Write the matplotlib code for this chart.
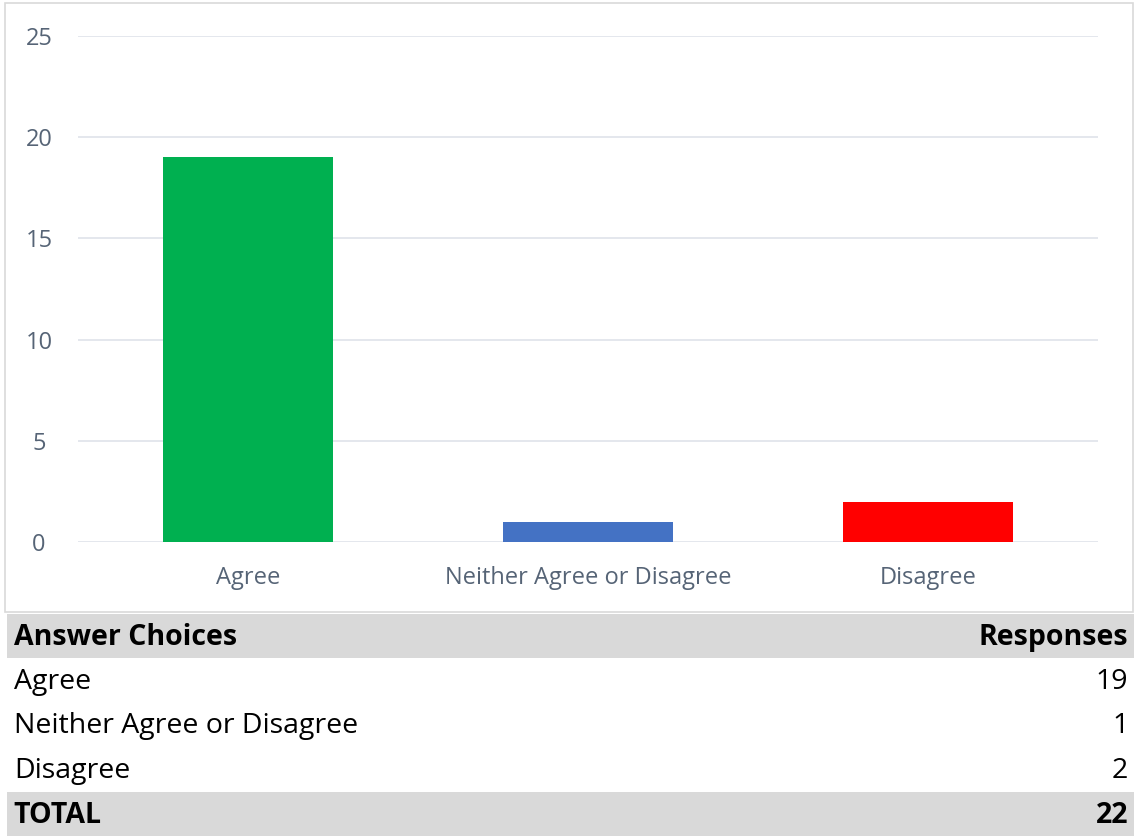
import matplotlib; matplotlib.use("Agg")
import matplotlib.pyplot as plt
from matplotlib.patches import Rectangle

categories = ['Agree', 'Neither Agree or Disagree', 'Disagree']
responses = [19, 1, 2]
total = 22
bar_colors = ['#00b050', '#4472c4', '#ff0000']
yticks = [0, 5, 10, 15, 20, 25]
header = ['Answer Choices', 'Responses']

W, H = 1134, 836
plt.rcParams['font.family'] = ['Open Sans', 'DejaVu Sans']
fig = plt.figure(figsize=(W/100, H/100), dpi=100)

def box(x0, y0, x1, y1):
    # pixel box (top-left origin) -> figure fraction rect
    return [x0/W, 1-y1/H, (x1-x0)/W, (y1-y0)/H]

# chart frame
fig.patches.append(Rectangle((5/W, 1-612/H), 1128/W, 609/H, transform=fig.transFigure,
                             fill=False, edgecolor='#d9d9d9', lw=1.2))

ax = fig.add_axes(box(78, 36, 1098, 542))
ax.bar(range(len(categories)), responses, width=0.5, color=bar_colors, zorder=3)
ax.set_xlim(-0.5, 2.5); ax.set_ylim(0, 25)
ax.set_yticks(yticks)
ax.set_xticks(range(len(categories)))
ax.set_xticklabels(categories)
for s in ax.spines.values(): s.set_visible(False)
ax.grid(axis='y', color='#dfe3ea', lw=1.2, zorder=0)
ax.tick_params(axis='y', length=0, pad=28, labelsize=17, labelcolor='#566476')
ax.tick_params(axis='x', length=0, pad=17.5, labelsize=17, labelcolor='#566476')
for t in ax.get_yticklabels(): t.set_ha('center')

# table below the chart
tx = fig.add_axes(box(7, 614, 1134, 836))
tx.set_xlim(0, 1); tx.set_ylim(0, 5); tx.axis('off')
rows = [(header[0], header[1], True)] + \
       [(c, str(v), False) for c, v in zip(categories, responses)] + \
       [('TOTAL', str(total), True)]
ytop = 5
for i, (lab, val, bold) in enumerate(rows):
    h = 1.0
    y0 = ytop - h
    if bold:
        tx.add_patch(Rectangle((0, y0), 1, h, color='#d9d9d9', lw=0))
    fw = 'bold' if bold else 'normal'
    tx.text(0.006, y0 + h/2 - 0.03, lab, ha='left', va='center', fontsize=20.5, fontweight=fw, color='black')
    tx.text(0.995, y0 + h/2 - 0.03, val, ha='right', va='center', fontsize=20.5, fontweight=fw, color='black')
    ytop = y0

fig.savefig('out.png', dpi=100)
